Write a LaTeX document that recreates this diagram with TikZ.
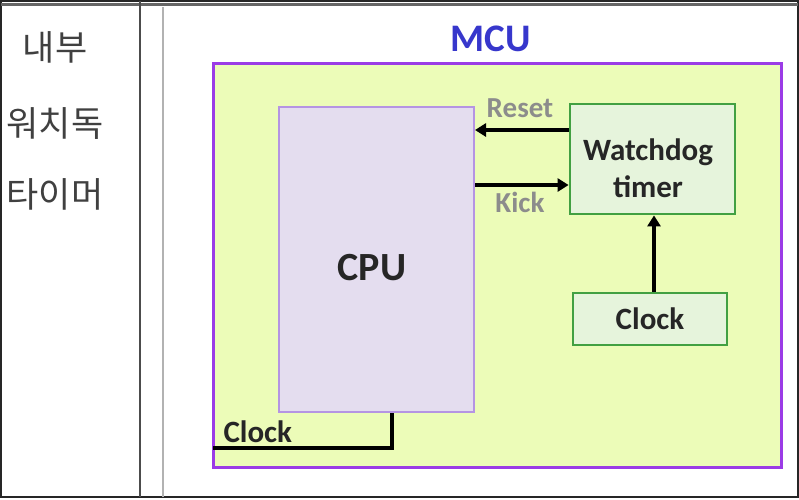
\documentclass[tikz,border=0pt]{standalone}
\usepackage{fontspec}
\setmainfont{Carlito}
\newfontfamily\krfont{Noto Sans CJK KR}
\usetikzlibrary{arrows.meta}
\definecolor{mcufill}{HTML}{ECFCB8}
\definecolor{mculine}{HTML}{9B3BE6}
\definecolor{cpufill}{HTML}{E4DDEF}
\definecolor{cpuline}{HTML}{B594E3}
\definecolor{wdfill}{HTML}{E6F4DC}
\definecolor{wdline}{HTML}{42A042}
\definecolor{mcutext}{HTML}{3737CC}
\definecolor{lbl}{HTML}{8C8C8C}
\tikzset{
  blk/.style={draw=wdline, fill=wdfill, line width=2.8pt, inner sep=0pt, align=center, font=\bfseries\fontsize{31}{37}\selectfont, text=black!85},
  conn/.style={line width=3.2pt, -{Triangle[length=11pt,width=13pt]}},
  korean/.style={font=\krfont\fontsize{35}{40}\selectfont, text=black!75},
  lbltext/.style={font=\bfseries\fontsize{29}{32}\selectfont, text=lbl},
}
\begin{document}
\begin{tikzpicture}[x=1pt,y=-1pt]
\useasboundingbox (0,0) rectangle (799,499);
\fill[white] (0,0) rectangle (799,499);
% frame
\draw[line width=1.5pt, black!85] (1,1) rectangle (798,497);
\draw[line width=3pt, black!60] (1,4.5) -- (798,4.5);
\draw[line width=2.5pt, black!70] (140,1) -- (140,497);
\draw[line width=2.5pt, black!30] (163,7) -- (163,497);
% korean text
\node[korean] (k1) at (55,47) {내부};
\node[korean] (k2) at (55,124) {워치독};
\node[korean] (k3) at (55,194) {타이머};
% MCU
\node[font=\bfseries\fontsize{39}{42}\selectfont, text=mcutext] (mcul) at (491,39) {MCU};
\draw[draw=mculine, fill=mcufill, line width=3pt] (213,63) rectangle (781,467);
\coordinate (mcuw) at (213,448);
% CPU
\node[draw=cpuline, fill=cpufill, line width=2pt, minimum width=195pt, minimum height=305pt, inner sep=0pt] (cpu) at (376.5,259.5) {};
\node[font=\bfseries\fontsize{40}{44}\selectfont, text=black!85] (cputxt) at (372,268) {CPU};
% Watchdog
\node[blk, minimum width=165pt, minimum height=110pt] (wd) at (652.5,159) {};
\node[font=\bfseries\fontsize{31}{37}\selectfont, text=black!85, align=center] (wdtxt) at (648,168) {Watchdog\\timer};
% Clock
\node[blk, minimum width=154pt, minimum height=52pt] (clk) at (650,319) {Clock};
% arrows
\draw[conn] (wd.west |- 0,130) -- (cpu.east |- 0,130);
\draw[conn] (cpu.east |- 0,185) -- (wd.west |- 0,185);
\node[lbltext] (rst) at (520,108) {Reset};
\node[lbltext] (kck) at (520,202) {Kick};
\draw[conn] (clk.north -| 654,0) -- (wd.south -| 654,0);
% CPU clock line
\draw[line width=3.2pt] (mcuw) -- (392,448) -- (cpu.south -| 392,0);
\node[font=\bfseries\fontsize{31}{34}\selectfont, text=black!85, anchor=west] (cpuclk) at (220,432) {Clock};
\end{tikzpicture}
\end{document}
